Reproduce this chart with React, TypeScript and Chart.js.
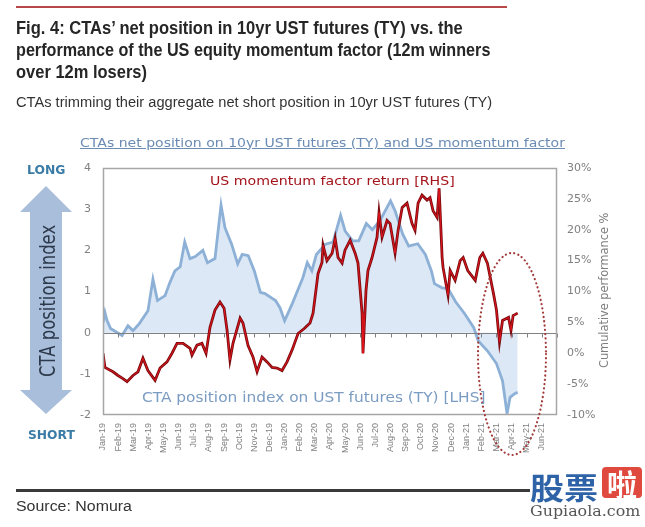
import React, { useEffect, useLayoutEffect, useRef } from 'react';
import { Chart, registerables } from 'chart.js';
Chart.register(...registerables);

const monthLabels = [
  'Jan-19','Feb-19','Mar-19','Apr-19','May-19','Jun-19','Jul-19','Aug-19','Sep-19','Oct-19','Nov-19','Dec-19',
  'Jan-20','Feb-20','Mar-20','Apr-20','May-20','Jun-20','Jul-20','Aug-20','Sep-20','Oct-20','Nov-20','Dec-20',
  'Jan-21','Feb-21','Mar-21','Apr-21','May-21','Jun-21',
];

// CTA position index (LHS), x = months since Jan-19
const ctaMonths = [
  0, 0.13, 0.26, 0.5, 1.26, 1.65, 1.98, 2.4, 2.97, 3.3, 3.6, 4.1, 4.4, 4.75, 5.1, 5.4, 5.75, 6.1, 6.6, 6.9, 7.4, 7.8,
  8.06, 8.5, 8.9, 9.2, 9.6, 10.0, 10.4, 10.7, 11.4, 11.7, 12.0, 12.5, 13.2, 13.5, 13.8, 14.1, 14.7, 15.2, 15.7,
  16.0, 16.5, 16.9, 17.4, 17.8, 18.3, 19.0, 19.3, 19.8, 20.2, 20.8, 21.3, 21.7, 21.9, 22.4, 22.8, 23.3, 23.9,
  24.5, 24.8, 25.4, 26.0, 26.4, 26.7, 26.9, 27.2, 27.4,
];
const ctaIndex = [
  0.24, 0.49, 0.3, 0.1, -0.07, 0.17, 0.05, 0.22, 0.53, 1.3, 0.78, 0.9, 1.2, 1.5, 1.6, 2.2, 1.8, 1.85, 2.0, 1.7, 1.8, 3.1,
  2.55, 2.15, 1.67, 1.9, 1.87, 1.5, 0.98, 0.95, 0.78, 0.6, 0.29, 0.7, 1.33, 1.7, 1.5, 1.9, 2.15, 2.2, 2.85,
  2.47, 2.23, 2.23, 2.65, 2.5, 2.72, 3.2, 2.96, 2.4, 2.1, 2.16, 1.9, 1.5, 1.19, 1.09, 1.07, 0.75, 0.46,
  0.12, -0.2, -0.44, -0.75, -1.17, -1.97, -1.57, -1.48, -1.45,
];

// US momentum factor cumulative return in % (RHS)
const momMonths = [
  0, 0.13, 0.66, 0.99, 1.32, 1.59, 1.98, 2.31, 2.64, 2.97, 3.44, 3.77, 4.23, 4.56, 4.89, 5.29, 5.75, 5.88, 6.21,
  6.54, 6.81, 7.07, 7.4, 7.73, 8.0, 8.2, 8.39, 8.59, 9.06, 9.25, 9.58, 9.91, 10.18, 10.51, 10.84, 11.17, 11.5,
  11.83, 12.16, 12.49, 12.89, 13.3, 13.68, 13.88, 14.21, 14.47, 14.54, 14.8, 15.14, 15.34, 15.53, 15.8, 15.99,
  16.33, 16.66, 16.85, 17.12, 17.18, 17.38, 17.51, 17.78, 18.11, 18.24, 18.44, 18.77, 18.97, 19.3, 19.5, 19.77,
  20.09, 20.42, 20.62, 20.82, 21.08, 21.41, 21.61, 21.81, 22.08, 22.21, 22.41, 22.47, 22.8, 22.94, 23.27, 23.6,
  23.8, 24.1, 24.6, 24.9, 25.1, 25.4, 25.8, 26.0, 26.2, 26.4, 26.8, 26.96, 27.1, 27.4,
];
const momReturn = [
  0.0, -2.3, -3.0, -3.6, -4.1, -4.6, -3.6, -3.0, -0.8, -2.8, -4.4, -2.4, -1.4, 0.0, 1.6, 1.6, 0.8, -0.3, 1.3,
  1.6, 0.0, 4.2, 7.0, 8.3, 7.3, 3.7, -1.1, 1.6, 5.7, 4.9, 1.3, -0.6, -3.0, -0.6, -1.4, -2.3, -2.4,
  -2.8, -1.4, 0.5, 3.2, 4.0, 4.9, 6.5, 12.9, 14.7, 17.5, 15.0, 16.2, 18.6, 15.5, 14.6, 16.7,
  18.3, 16.2, 14.6, 6.5, 0.0, 10.2, 13.4, 15.5, 18.8, 22.8, 18.8, 21.5, 21.0, 16.2, 19.9, 23.6,
  24.3, 21.0, 19.9, 24.3, 25.6, 24.8, 25.2, 23.1, 22.0, 26.7, 15.5, 13.9, 9.4, 13.4, 11.8, 15.0,
  15.5, 13.4, 11.8, 15.5, 16.2, 14.6, 9.7, 7.0, 1.8, 5.3, 5.8, 3.7, 6.1, 6.5,
];

const leftMin = -2, leftMax = 4;
const rightMin = -10, rightMax = 30;

const ctaPts = ctaMonths.map((m, i) => ({ x: m, y: ctaIndex[i] }));
const momPts = momMonths.map((m, i) => ({ x: m, y: momReturn[i] }));

const decor = {
  id: 'decor',
  afterDatasetDraw(chart: any, args: any) {
    if (args.index !== 2) return;
    const { ctx, chartArea: a, scales } = chart;
    const y0 = Math.round(scales.yL.getPixelForValue(0)) + 0.5;
    ctx.save();
    ctx.strokeStyle = '#808080';
    ctx.lineWidth = 1;
    ctx.beginPath();
    ctx.moveTo(a.left, y0);
    ctx.lineTo(a.right, y0);
    for (let i = 0; i <= 30; i++) {
      const x = Math.round(scales.x.getPixelForValue(i)) + 0.5;
      ctx.moveTo(x, y0);
      ctx.lineTo(x, y0 + 4);
    }
    ctx.stroke();
    ctx.restore();
  },
  afterDraw(chart: any) {
    const { ctx, chartArea: a } = chart;
    ctx.save();
    ctx.strokeStyle = '#a6a6a6';
    ctx.lineWidth = 1.5;
    ctx.strokeRect(a.left + 0.5, a.top + 0.5, a.right - a.left - 1, a.bottom - a.top - 1);
    ctx.strokeStyle = '#a33a3a';
    ctx.lineWidth = 2.2;
    ctx.lineCap = 'round';
    ctx.setLineDash([0.1, 4.2]);
    ctx.beginPath();
    ctx.ellipse(512, 354, 34, 101, 0, 0, Math.PI * 2);
    ctx.stroke();
    ctx.restore();
  },
};

function FitText(p: any) {
  const ref = useRef<HTMLSpanElement>(null);
  useLayoutEffect(() => {
    const el = ref.current!;
    const s = p.w / el.offsetWidth;
    el.style.transform = (p.rotate ? 'rotate(-90deg) ' : '') + `scaleX(${s})`;
  }, []);
  const size = p.size;
  const top = p.rotate ? p.y : p.y - 0.846 * size;
  const left = p.rotate ? p.x - 0.846 * size : p.x;
  return (
    <span
      ref={ref}
      style={{
        position: 'absolute', left, top, fontSize: size, lineHeight: `${size}px`,
        fontFamily: p.family, fontWeight: p.weight || 'normal', color: p.color,
        whiteSpace: 'nowrap', transformOrigin: '0 0',
        textDecoration: p.underline ? 'underline' : 'none',
      }}
    >
      {p.text}
    </span>
  );
}

const ARIAL = '"Liberation Sans", Arial, sans-serif';
const VERD = '"DejaVu Sans", Verdana, sans-serif';

export default function App() {
  const canvasRef = useRef<HTMLCanvasElement>(null);
  useEffect(() => {
    document.body.style.margin = '0';
    const chart = new Chart(canvasRef.current!, {
      type: 'line',
      data: {
        datasets: [
          { label: 'mom-outline', data: momPts, yAxisID: 'yR', borderColor: '#7c0c10', borderWidth: 2.8, pointRadius: 0, fill: false, order: 1 } as any,
          { label: 'mom', data: momPts, yAxisID: 'yR', borderColor: '#e3141c', borderWidth: 1, pointRadius: 0, fill: false, order: 0 } as any,
          { label: 'cta', data: ctaPts, yAxisID: 'yL', borderColor: '#8db0d7', borderWidth: 2.8, pointRadius: 0, backgroundColor: '#dce8f5', fill: 'origin', order: 2 } as any,
        ],
      },
      options: {
        animation: false,
        responsive: false,
        maintainAspectRatio: false,
        layout: { padding: { left: 73, right: 38, top: 168, bottom: 62 } },
        plugins: { legend: { display: false }, tooltip: { enabled: false } },
        scales: {
          x: {
            type: 'linear', min: 0, max: 30,
            afterBuildTicks: (s: any) => { s.ticks = monthLabels.map((_, i) => ({ value: i })); },
            ticks: {
              autoSkip: false, minRotation: 90, maxRotation: 90, padding: 8,
              callback: (v: any) => monthLabels[v] ?? '',
              font: { family: ARIAL, size: 9 }, color: '#7f7f7f',
            },
            grid: { display: false, drawTicks: false },
            border: { display: false },
            afterFit: (s: any) => { s.height = 50; },
          },
          yL: {
            type: 'linear', position: 'left', min: leftMin, max: leftMax,
            ticks: { stepSize: 1, padding: 12, font: { family: VERD, size: 11 }, color: '#808080' },
            grid: { display: false, drawTicks: false },
            border: { display: false },
            afterFit: (s: any) => { s.width = 30; },
          },
          yR: {
            type: 'linear', position: 'right', min: rightMin, max: rightMax,
            ticks: { stepSize: 5, padding: 10, callback: (v: any) => v + '%', font: { family: VERD, size: 11 }, color: '#808080' },
            grid: { display: false, drawTicks: false },
            border: { display: false },
            afterFit: (s: any) => { s.width = 50; },
          },
        } as any,
      },
      plugins: [decor],
    });
    return () => chart.destroy();
  }, []);

  return (
    <div style={{ position: 'absolute', left: 0, top: 0, width: 645, height: 527, background: '#fff', overflow: 'hidden' }}>
      <canvas ref={canvasRef} width={645} height={527} style={{ position: 'absolute', left: 0, top: 0, width: 645, height: 527 }} />
      <div style={{ position: 'absolute', left: 16, top: 6, width: 491, height: 2, background: '#b8474a' }} />
      <FitText text="Fig. 4: CTAs’ net position in 10yr UST futures (TY) vs. the" x={16} y={34} w={447} size={19} family={ARIAL} weight="bold" color="#262626" />
      <FitText text="performance of the US equity momentum factor (12m winners" x={16} y={56} w={474} size={19} family={ARIAL} weight="bold" color="#262626" />
      <FitText text="over 12m losers)" x={16} y={78} w={131} size={19} family={ARIAL} weight="bold" color="#262626" />
      <FitText text="CTAs trimming their aggregate net short position in 10yr UST futures (TY)" x={16} y={107} w={476} size={15.5} family={ARIAL} color="#333333" />
      <FitText text="CTAs net position on 10yr UST futures (TY) and US momentum factor" x={80} y={147} w={485} size={12.3} family={VERD} color="#6b8cb4" underline />

      <svg width={645} height={527} style={{ position: 'absolute', left: 0, top: 0 }}>
        <polygon points="46,186 72,212 62,212 62,390 72,390 46,414 20,390 30,390 30,212 20,212" fill="#a9bedb" />
      </svg>
      <FitText text="LONG" x={27} y={174} w={38} size={12} family={VERD} weight="bold" color="#3a7ca5" />
      <FitText text="SHORT" x={28} y={439} w={47} size={12} family={VERD} weight="bold" color="#3a7ca5" />
      <FitText text="CTA position index" x={56} y={377} w={152} size={21} family={VERD} color="#2d3a4b" rotate />
      <FitText text="Cumulative performance %" x={608} y={368} w={155} size={12} family={VERD} color="#7f7f7f" rotate />

      <FitText text="US momentum factor return [RHS]" x={210} y={185} w={245} size={12.3} family={VERD} color="#a3141c" />
      <FitText text="CTA position index on UST futures (TY) [LHS]" x={142} y={402} w={343} size={13.5} family={VERD} color="#7b9cc2" />

      <div style={{ position: 'absolute', left: 16, top: 489, width: 514, height: 2.5, background: '#3a3a3a' }} />
      <FitText text="Source: Nomura" x={16} y={511} w={116} size={14} family={ARIAL} color="#333333" />

      <FitText text="股票" x={530} y={496} w={68} size={30} family='"Noto Sans CJK SC", sans-serif' weight="bold" color="#2f63a8" />
      <div style={{ position: 'absolute', left: 602, top: 467, width: 40, height: 31, background: '#e0493e', borderRadius: 4 }} />
      <FitText text="啦" x={607} y={494} w={30} size={29} family='"Noto Sans CJK SC", sans-serif' weight="bold" color="#ffffff" />
      <FitText text="Gupiaola.com" x={530} y={516} w={110} size={14} family='"DejaVu Serif", serif' color="#555555" />
    </div>
  );
}
